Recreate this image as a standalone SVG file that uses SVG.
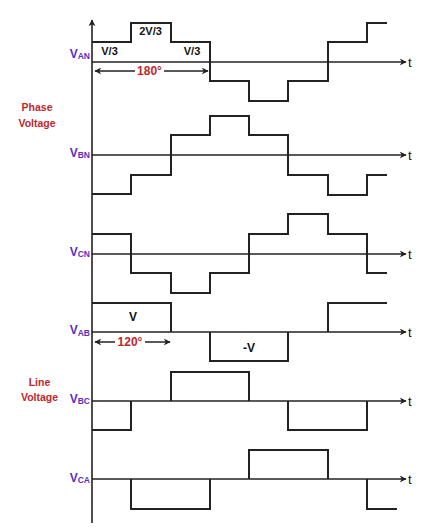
<svg xmlns="http://www.w3.org/2000/svg" width="431" height="532" viewBox="0 0 431 532">
<style>
.ax{stroke:#222;stroke-width:1.6;fill:none}
.wave{stroke:#222;stroke-width:2;fill:none;stroke-linejoin:miter}
.vl{font-family:"Liberation Sans",Arial,sans-serif;font-weight:bold;font-size:12px;fill:#5b2ec4}
.sub{font-size:8.5px}
.grp{font-family:"Liberation Sans",Arial,sans-serif;font-weight:bold;font-size:10.5px;fill:#c0272d;text-anchor:middle}
.lvl{font-family:"Liberation Sans",Arial,sans-serif;font-weight:bold;font-size:11px;fill:#111;text-anchor:middle}
.deg{font-family:"Liberation Sans",Arial,sans-serif;font-weight:bold;font-size:12px;fill:#c0272d;text-anchor:middle}
.t{font-family:"Liberation Sans",Arial,sans-serif;font-size:13px;fill:#111}
.dim{stroke:#222;stroke-width:1.3;fill:none}
</style>
<defs>
<marker id="ah" viewBox="0 0 10 10" refX="9" refY="5" markerWidth="7" markerHeight="7" markerUnits="userSpaceOnUse" orient="auto-start-reverse">
<path d="M0,0 L10,5 L0,10 L3,5 Z" fill="#222"/>
</marker>
</defs>
<rect width="431" height="532" fill="#fff"/>
<g id="connectors">
<line class="ax" x1="92" y1="523" x2="92" y2="20" marker-end="url(#ah)"/>
<line class="ax" x1="92" y1="62" x2="406" y2="62" marker-end="url(#ah)"/>
<line class="ax" x1="92" y1="155" x2="406" y2="155" marker-end="url(#ah)"/>
<line class="ax" x1="92" y1="254" x2="406" y2="254" marker-end="url(#ah)"/>
<line class="ax" x1="92" y1="332" x2="406" y2="332" marker-end="url(#ah)"/>
<line class="ax" x1="92" y1="401" x2="406" y2="401" marker-end="url(#ah)"/>
<line class="ax" x1="92" y1="479" x2="406" y2="479" marker-end="url(#ah)"/>
<line class="dim" x1="95" y1="71" x2="208" y2="71" marker-start="url(#ah)" marker-end="url(#ah)"/>
<line class="dim" x1="95" y1="342" x2="170" y2="342" marker-start="url(#ah)" marker-end="url(#ah)"/>
</g>
<g id="van">
<path class="wave" d="M92,42 H131 V23 H171 V42 H210 V81 H249 V101 H288 V81 H328 V42 H367 V23 H387"/>
<text class="vl" x="90" y="57.5" text-anchor="end">V<tspan class="sub" dy="1.5">AN</tspan></text>
<text class="lvl" x="109.5" y="55">V/3</text>
<text class="lvl" x="150.5" y="35">2V/3</text>
<text class="lvl" x="192" y="55">V/3</text>
<rect x="135" y="65" width="29" height="11" fill="#fff"/>
<text class="deg" x="149.5" y="74.7">180°</text>
<text class="t" x="408" y="66.5">t</text>
</g>
<g id="vbn">
<path class="wave" d="M92,194 H131 V175 H171 V135 H210 V116 H249 V135 H288 V175 H328 V195 H367 V175 H387"/>
<text class="vl" x="90" y="156.5" text-anchor="end">V<tspan class="sub" dy="1.5">BN</tspan></text>
<text class="t" x="408" y="159.5">t</text>
</g>
<g id="vcn">
<path class="wave" d="M92,234 H131 V273 H171 V293 H210 V273 H249 V234 H288 V214 H328 V234 H367 V273 H387"/>
<text class="vl" x="90" y="255.5" text-anchor="end">V<tspan class="sub" dy="1.5">CN</tspan></text>
<text class="t" x="408" y="258.5">t</text>
</g>
<g id="vab">
<path class="wave" d="M92,303 H171 V332 M210,332 V361 H288 V332 M328,332 V303 H387"/>
<text class="vl" x="90" y="334" text-anchor="end">V<tspan class="sub" dy="1.5">AB</tspan></text>
<text class="lvl" x="133" y="320.5" style="font-size:12px">V</text>
<text class="lvl" x="249" y="351.5" style="font-size:12px">-V</text>
<rect x="115" y="336" width="30" height="11" fill="#fff"/>
<text class="deg" x="130" y="346">120°</text>
<text class="t" x="408" y="336.5">t</text>
</g>
<g id="vbc">
<path class="wave" d="M92,430 H131 V401 M171,401 V372 H249 V401 M288,401 V430 H367 V401"/>
<text class="vl" x="90" y="402.5" text-anchor="end">V<tspan class="sub" dy="1.5">BC</tspan></text>
<text class="t" x="408" y="405.5">t</text>
</g>
<g id="vca">
<path class="wave" d="M131,479 V509 H210 V479 M249,479 V450 H328 V479 M367,479 V509 H397"/>
<text class="vl" x="90" y="481.5" text-anchor="end">V<tspan class="sub" dy="1.5">CA</tspan></text>
<text class="t" x="408" y="483.5">t</text>
</g>
<g id="phase-label">
<text class="grp" x="37" y="111">Phase</text>
<text class="grp" x="37" y="126.5">Voltage</text>
</g>
<g id="line-label">
<text class="grp" x="39.5" y="386">Line</text>
<text class="grp" x="39.5" y="401">Voltage</text>
</g>
</svg>
